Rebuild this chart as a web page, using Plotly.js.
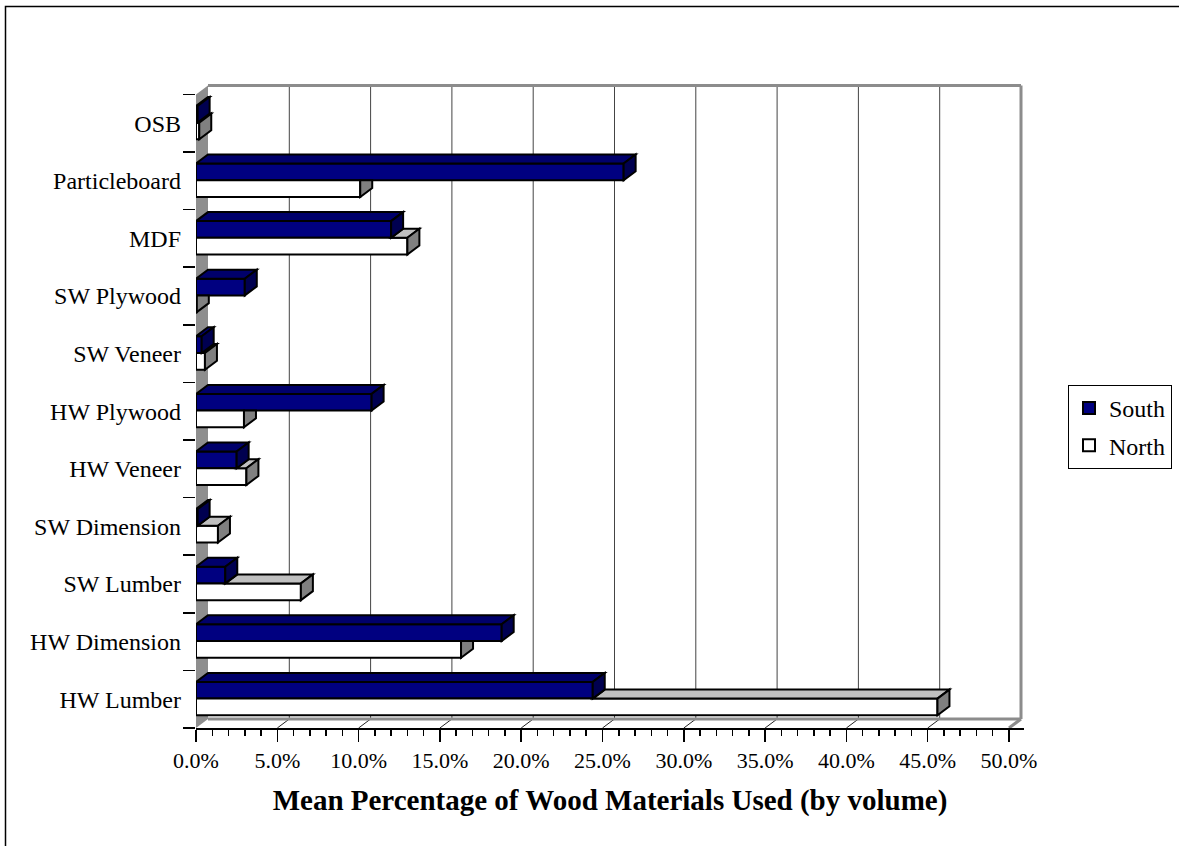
<!DOCTYPE html>
<html><head><meta charset="utf-8">
<script src="https://cdn.plot.ly/plotly-3.0.1.min.js"></script>
<style>html,body{margin:0;padding:0;background:#fff;}#chart{width:1179px;height:846px;}</style>
</head><body><div id="chart"></div>
<script>
// ---- data (bottom to top) ----
const categories = ['HW Lumber','HW Dimension','SW Lumber','SW Dimension','HW Veneer','HW Plywood','SW Veneer','SW Plywood','MDF','Particleboard','OSB'];
const southValues = [24.4, 18.8, 1.8, 0.1, 2.5, 10.8, 0.35, 3.0, 12.0, 26.3, 0.1];
const northValues = [45.6, 16.3, 6.45, 1.35, 3.1, 2.95, 0.55, 0.05, 13.0, 10.1, 0.2];
const xTickVals = [0, 5, 10, 15, 20, 25, 30, 35, 40, 45, 50];
const xTickText = ['0.0%','5.0%','10.0%','15.0%','20.0%','25.0%','30.0%','35.0%','40.0%','45.0%','50.0%'];
const seriesNames = ['South', 'North'];
const xTitle = 'Mean Percentage of Wood Materials Used (by volume)';

// ---- geometry / style ----
const W = 1179, H = 846;
const plotL = 196, plotR = 1024, plotT = 82, plotB = 728;
const pxPerPct = 16.26, pxPerCat = 57.6;
const xMax = (plotR - plotL) / pxPerPct;
const yMin = -0.5, yMax = -0.5 + (plotB - plotT) / pxPerCat;
const DX = 12 / pxPerPct, DY = 9 / pxPerCat;
const BW = 0.29, OS = 0.01, ON = OS - BW;
const FONT = '"Liberation Serif", "Times New Roman", serif';
const navy = '#000080', navyTop = '#00006b', navySide = '#000050';
const whiteTop = '#c0c0c0', whiteSide = '#808080';
const wallGray = '#8e8e8e';
const nCat = categories.length;
const xEnd = xTickVals[xTickVals.length - 1];
const yBot = -0.5, yTop = nCat - 0.5;

function poly(pts, fill, lw) {
  return {type:'path', xref:'x', yref:'y', layer:'above',
    path: 'M' + pts.map(p => p[0] + ',' + p[1]).join('L') + 'Z',
    fillcolor: fill, line:{color:'black', width: lw}};
}
function seg(x0, y0, x1, y1, color, w, layer) {
  return {type:'line', xref:'x', yref:'y', layer: layer || 'below', x0, y0, x1, y1, line:{color, width:w}};
}

const shapes = [];
// left wall
shapes.push({type:'path', xref:'x', yref:'y', layer:'below',
  path: `M0,${yBot}L${DX},${yBot+DY}L${DX},${yTop+DY}L0,${yTop}Z`,
  fillcolor: wallGray, line:{width:0}});
// back wall gridlines + floor diagonals
xTickVals.forEach(v => {
  if (v > 0 && v < xEnd) {
    shapes.push(seg(v + DX, yBot + DY, v + DX, yTop + DY, '#444', 1));
    shapes.push(seg(v + DX, yBot + DY, v, yBot, '#222', 1));
  }
});
// frame (back floor edge, right wall, top edge)
shapes.push(seg(DX, yBot + DY, xEnd + DX, yBot + DY, '#8c8c8c', 3));
shapes.push(seg(xEnd + DX, yBot + DY, xEnd + DX, yTop + DY, '#8c8c8c', 3));
shapes.push(seg(DX, yTop + DY, xEnd + DX, yTop + DY, '#8c8c8c', 3));
shapes.push(seg(xEnd + DX, yBot + DY, xEnd, yBot, '#8c8c8c', 3));

// 3D faces of bars
for (let i = 0; i < nCat; i++) {
  const vS = southValues[i], vN = northValues[i];
  const nb = i + ON, yt = i + OS;          // north bottom, north top (= south bottom)
  const st = i + OS + BW;                   // south top
  if (vN > vS) {
    shapes.push(poly([[vS, yt],[vN, yt],[vN+DX, yt+DY],[vS+DX, yt+DY]], whiteTop, 2));
    shapes.push(poly([[vN, nb],[vN, yt],[vN+DX, yt+DY],[vN+DX, nb+DY]], whiteSide, 2));
  } else {
    const cx = Math.min(vS, vN + DX);
    const cy = yt + Math.max(0, vN + DX - vS) * DY / DX;
    shapes.push(poly([[vN, nb],[vN, yt],[cx, yt],[vN+DX, cy],[vN+DX, nb+DY]], whiteSide, 2));
  }
  shapes.push(poly([[0, st],[vS, st],[vS+DX, st+DY],[DX, st+DY]], navyTop, 2));
  shapes.push(poly([[vS, yt],[vS, st],[vS+DX, st+DY],[vS+DX, yt+DY]], navySide, 2));
}

// outer chart border
const px2paperX = px => (px - plotL) / (plotR - plotL);
const px2paperY = py => (plotB - py) / (plotB - plotT);
shapes.push({type:'rect', xref:'paper', yref:'paper', layer:'above',
  x0: px2paperX(5.5), x1: px2paperX(W + 20), y0: px2paperY(H + 20), y1: px2paperY(6.5),
  line:{color:'black', width:1.5}, fillcolor:'rgba(0,0,0,0)'});

const traces = [
  {type:'bar', orientation:'h', name: seriesNames[0], legendgroup:'s', y: categories, x: southValues,
   width: BW, offset: OS, marker:{color: navy, line:{color:'black', width:2}}, cliponaxis:false, hoverinfo:'x+y'},
  {type:'bar', orientation:'h', name: seriesNames[1], legendgroup:'n', y: categories, x: northValues,
   width: BW, offset: ON, marker:{color: '#ffffff', line:{color:'black', width:2}}, cliponaxis:false, hoverinfo:'x+y'}
];

const layout = {
  width: W, height: H,
  margin: {l: plotL, r: W - plotR, t: plotT, b: H - plotB, pad: 0, autoexpand: false},
  paper_bgcolor: '#fff', plot_bgcolor: 'rgba(0,0,0,0)',
  barmode: 'overlay',
  font: {family: FONT, color: 'black', size: 22},
  xaxis: {type:'linear', range:[0, xMax], tickmode:'array', tickvals: xTickVals, ticktext: xTickText,
    ticks:'outside', ticklen: 12, tickwidth: 1.5, tickcolor:'black',
    minor: {dtick: 1, tick0: 0, ticks:'outside', ticklen: 6, tickwidth: 1.5, tickcolor:'black', showgrid:false},
    showgrid:false, zeroline:false, showline:true, linecolor:'black', linewidth:1.5,
    tickfont:{family: FONT, size: 22, color:'black'},
    title:{text: xTitle, font:{family: FONT, size: 29, color:'black', weight:'bold'}, standoff: 18}},
  yaxis: {type:'category', categoryorder:'array', categoryarray: categories, range:[yMin, yMax],
    tickson:'boundaries', ticks:'outside', ticklen: 12, tickwidth: 1.5, tickcolor:'black',
    ticklabelstandoff: 14,
    showgrid:false, zeroline:false, showline:false,
    tickfont:{family: FONT, size: 24, color:'black'}},
  legend: {xref:'container', yref:'container', x: 1068 / W, xanchor:'left', y: 1 - 385 / H, yanchor:'top',
    bordercolor:'black', borderwidth:1, bgcolor:'#fff', font:{family: FONT, size: 24, color:'black'},
    traceorder:'grouped', tracegroupgap: 3},
  showlegend: true,
  shapes: shapes
};

Plotly.newPlot('chart', traces, layout, {displayModeBar:false, staticPlot:true});
</script>
</body></html>
